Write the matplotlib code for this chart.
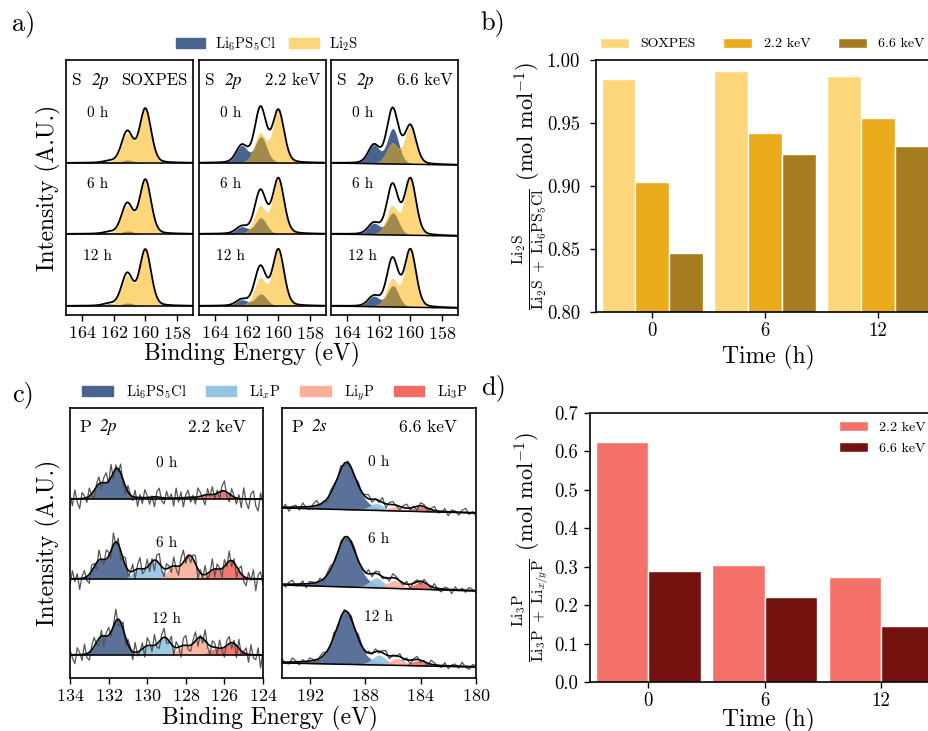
import numpy as np
import matplotlib
matplotlib.use('Agg')
import matplotlib.pyplot as plt
from matplotlib.patches import Patch

plt.rcParams['font.family'] = 'serif'
plt.rcParams['font.serif'] = ['cmr10', 'DejaVu Serif']
plt.rcParams['mathtext.fontset'] = 'cm'
plt.rcParams['axes.unicode_minus'] = False
plt.rcParams['axes.formatter.use_mathtext'] = True

# ---------------- data ----------------
# S 2p fits (peak heights in px above background)
# order of times: 0 h, 6 h, 12 h ; each entry = (2p3/2, 2p1/2)
s_times = ['0 h', '6 h', '12 h']
s_li2s_pos = [160.0, 161.15]
s_lpsc_pos = [161.1, 162.3]
li2s_soxpes = [(54, 28), (54, 27), (56, 29)]
lpsc_soxpes = [(3, 1.5), (3, 1.5), (3, 2)]
li2s_22 = [(52, 29), (55, 27), (56, 27)]
lpsc_22 = [(26, 17), (16, 7), (12, 6)]
li2s_66 = [(38, 20), (56, 28), (57, 27)]
lpsc_66 = [(35, 18), (22, 11), (21, 10)]
s_bg_drop = [0, 0, 2]

# P 2p fits (2.2 keV): 2p3/2 position and height; 2p1/2 = half height at +0.86 eV
p_components = ['Li$_6$PS$_5$Cl', 'Li$_x$P', 'Li$_y$P', 'Li$_3$P']
p2p_pos = [(131.55, 129.6, 127.8, 126.05),
           (131.6, 129.6, 127.8, 125.65),
           (131.5, 129.1, 127.25, 125.6)]
p2p_h = [(30, 2, 1.5, 8),
         (36, 18, 23, 18),
         (35, 17, 17, 12)]
# raw-data residuals (px) around the fit envelope, 134 -> 124 eV
p2p_res_0 = [4, -7, 9, -3, -10, 6, 2, -5, 8, -2, -8, 3, 7, -6, 5, 10, -2, 13, -7, 4,
             -3, 9, -5, -8, 6, 1, -4, 7, -9, 3, -6, 8, 2, -7, 1, -10, 5, 9, -3, -6,
             7, -1, 4, -8, 10, -4, 6, -9, 3, 7, -5, 2, -7, 9, 4, -3, -10, 6, -2, 8,
             -5, 3, -7, 5, 10, -4, -8, 7, 1, -6, 4, -9, 11, -3, -10, 5, 8, -7, -12, 6, -4]
p2p_res_6 = [-6, 8, -3, 5, -11, 2, 7, -4, -9, 6, 3, -7, 10, -2, -5, 9, 4, -8, 12, -3,
             6, -10, 2, 8, -6, -1, 7, -9, 4, 11, -5, -2, 8, -7, 3, -11, 6, 10, -4, -8,
             5, 2, -6, 9, -3, -9, 7, 12, -5, 1, -7, 4, 8, -10, 3, -4, 9, -6, -2, 11,
             -8, 5, 1, -9, 7, -3, 10, -6, 4, -11, 2, 8, -5, -8, 6, -2, 9, -12, 4, 7, -6]
p2p_res_12 = [5, -3, -9, 7, 2, -6, 10, -4, -8, 4, 9, -2, -7, 6, -11, 3, 8, -5, 1, 12,
              -6, -3, 7, -9, 5, 2, -8, 10, -4, -1, 6, -10, 8, 3, -6, 11, -3, -7, 4, 9,
              -5, -2, 8, -9, 6, 1, -11, 7, 10, -4, -6, 3, 9, -8, 2, -5, 11, -3, -9, 6,
              4, -7, 8, -2, -10, 5, 7, -6, 3, -12, 9, -4, 1, 6, -8, 10, -3, -5, 7, -13, 4]

# P 2s fits (6.6 keV)
p2s_pos = [(189.35, 187.2, 185.9, 184.0),
           (189.35, 187.2, 185.9, 184.0),
           (189.4, 187.0, 185.7, 184.2)]
p2s_h = [(47, 7, 4, 5),
         (50, 10, 8, 7),
         (53, 10, 7, 5)]
p2s_bg_drop = [5, 6, 4]
p2s_res_0 = [-2, 3, -4, 1, 2, -3, 4, -1, -3, 2, 5, -2, 1, -4, 3, 2, -1, 4, -3, 2, 1, -2, 3, -1,
             2, 4, -3, 1, -2, 5, -4, 2, 3, -1, -3, 2, 4, -2, 1, -4, 3, 2, -3, 1, 4, -2, -1, 3,
             -4, 2, 1, -3, 2, 4, -2, 1, -3]
p2s_res_6 = [1, -3, 2, 4, -2, -1, 3, -4, 2, 1, -2, 3, -3, 2, 4, -1, -2, 3, 1, -4, 2, 3, -2, 1,
             -1, 4, -3, 2, 3, -2, 1, -3, 4, 2, -1, -2, 3, -4, 1, 2, -3, 3, 1, -2, 4, -1, -3, 2,
             1, -4, 3, -1, 2, -2, 3, 1, -2]
p2s_res_12 = [3, -1, -2, 4, 1, -3, 2, -2, 3, 1, -4, 2, 3, -1, -2, 4, -3, 1, 2, -1, 3, -2, 4, 1,
              -3, 2, -1, 3, -2, 2, 4, -3, 1, -1, 3, -2, 2, -4, 1, 3, -2, 1, -3, 4, 2, -1, -2, 3,
              -3, 1, 2, -2, 4, -1, -3, 2, 1]

# bar charts
times = ['0', '6', '12']
li2s_frac_soxpes = [0.985, 0.9915, 0.987]
li2s_frac_22 = [0.903, 0.942, 0.954]
li2s_frac_66 = [0.847, 0.9255, 0.9315]
li3p_frac_22 = [0.6245, 0.3045, 0.274]
li3p_frac_66 = [0.288, 0.2203, 0.1466]

# ---------------- style ----------------
c_blue = '#48638f'
c_yellow = '#fdd57a'
c_olive = '#a18a4b'
p_colors = ['#48638f', '#93c4e1', '#fcae97', '#f26b61']
b_colors = ['#fdd67a', '#e9aa1c', '#a67c20']
d_colors = ['#f4716a', '#73120e']

W, H = 929, 731
fig = plt.figure(figsize=(W / 100, H / 100), dpi=100)


def add_ax(x0, y0, x1, y1):
    return fig.add_axes([x0 / W, 1 - y1 / H, (x1 - x0) / W, (y1 - y0) / H])


def pv(x, c, h, w, eta):
    d = (x - c) / w
    return h * (eta / (1 + 4 * d ** 2) + (1 - eta) * np.exp(-4 * np.log(2) * d ** 2))


def style_spec(ax):
    ax.set_yticks([])
    ax.tick_params(axis='x', labelsize=13, length=4, width=1, direction='out', pad=3)
    for s in ax.spines.values():
        s.set_linewidth(1.2)


def style_bar(ax, ypad):
    ax.tick_params(labelsize=13.5, length=4.5, width=1)
    ax.tick_params(axis='x', pad=2.5)
    ax.tick_params(axis='y', pad=ypad)
    for s in ax.spines.values():
        s.set_linewidth(1.2)


# ---------------- a) S 2p ----------------
s_cols = [(66, 193, 'SOXPES', li2s_soxpes, lpsc_soxpes),
          (199, 326, '2.2 keV', li2s_22, lpsc_22),
          (331, 458, '6.6 keV', li2s_66, lpsc_66)]
xs = np.linspace(165, 157, 500)
for col, (x0, x1, name, li2s, lpsc) in enumerate(s_cols):
    ax = add_ax(x0, 60, x1, 315)
    for k, off in enumerate([143, 72, 0]):
        base = off - s_bg_drop[col] * (165 - xs) / 8
        yl = sum(pv(xs, c, h, 0.85, 0.2) for c, h in zip(s_li2s_pos, li2s[k]))
        yb = sum(pv(xs, c, h, 0.85, 0.2) for c, h in zip(s_lpsc_pos, lpsc[k]))
        ax.fill_between(xs, base, base + yb, color=c_blue, lw=0)
        ax.fill_between(xs, base, base + yl, color=c_yellow, lw=0)
        ax.fill_between(xs, base, base + np.minimum(yl, yb), color=c_olive, lw=0)
        ax.plot(xs, base, color='k', lw=1.1)
        ax.plot(xs, base + yl + yb, color='k', lw=1.3)
        ax.text(163.0, off + 50, s_times[k], ha='center', va='center', fontsize=11)
    ax.set_xlim(165, 157)
    ax.set_ylim(-9, 246)
    ax.set_xticks([164, 162, 160, 158])
    style_spec(ax)
    ax.text(0.05, 0.92, 'S', transform=ax.transAxes, fontsize=12.5, va='center')
    ax.text(0.2, 0.92, '2p', transform=ax.transAxes, fontsize=12.5, va='center',
            family='STIXGeneral', style='italic')
    ax.text(0.955, 0.92, name, transform=ax.transAxes, fontsize=12, va='center', ha='right')

fig.text(48 / W, 1 - 188 / H, 'Intensity (A.U.)', rotation=90, ha='center', va='center', fontsize=17)
fig.text(252 / W, 1 - 354 / H, 'Binding Energy (eV)', ha='center', va='center', fontsize=17)
fig.legend(handles=[Patch(color=c_blue, label='Li$_6$PS$_5$Cl'), Patch(color=c_yellow, label='Li$_2$S')],
           loc='center left', bbox_to_anchor=(176 / W, 1 - 44 / H), ncol=2, frameon=False,
           fontsize=10.5, handlelength=2.0, handleheight=0.7, handletextpad=0.7,
           columnspacing=0.9, borderpad=0, borderaxespad=0)

# ---------------- c) P 2p / P 2s ----------------
ax = add_ax(70, 408, 263, 678)
xs = np.linspace(134, 124, 500)
p2p_res = [p2p_res_0, p2p_res_6, p2p_res_12]
for k, off in enumerate([156, 76, 0]):
    comps = [pv(xs, c, h, 0.75, 0.1) + pv(xs, c + 0.86, h / 2, 0.75, 0.1)
             for c, h in zip(p2p_pos[k], p2p_h[k])]
    xr = np.linspace(134, 124, len(p2p_res[k]))
    env_r = sum(pv(xr, c, h, 0.75, 0.1) + pv(xr, c + 0.86, h / 2, 0.75, 0.1)
                for c, h in zip(p2p_pos[k], p2p_h[k]))
    ax.plot(xr, off + env_r + np.array(p2p_res[k]), color='#555555', lw=0.9)
    for comp, colr in zip(comps, p_colors):
        ax.fill_between(xs, off, off + comp, color=colr, lw=0, alpha=0.9)
    ax.plot(xs, np.full_like(xs, off), color='k', lw=1.1)
    ax.plot(xs, off + sum(comps), color='k', lw=1.2)
    ax.text(129.0, off + 36, s_times[k], ha='center', va='center', fontsize=11)
ax.set_xlim(134, 124)
ax.set_ylim(-23, 247)
ax.set_xticks([134, 132, 130, 128, 126, 124])
style_spec(ax)
ax.text(0.05, 0.93, 'P', transform=ax.transAxes, fontsize=12.5, va='center')
ax.text(0.155, 0.93, '2p', transform=ax.transAxes, fontsize=12.5, va='center',
        family='STIXGeneral', style='italic')
ax.text(0.91, 0.93, '2.2 keV', transform=ax.transAxes, fontsize=12.5, va='center', ha='right')

ax = add_ax(282, 408, 476, 678)
xs = np.linspace(194, 180, 500)
p2s_res = [p2s_res_0, p2s_res_6, p2s_res_12]
widths = [1.75, 1.2, 1.2, 1.2]
for k, off in enumerate([155, 78, 0]):
    base = off - p2s_bg_drop[k] * (194 - xs) / 14
    comps = [pv(xs, c, h, w, 0.45) for c, h, w in zip(p2s_pos[k], p2s_h[k], widths)]
    xr = np.linspace(194, 180, len(p2s_res[k]))
    base_r = off - p2s_bg_drop[k] * (194 - xr) / 14
    env_r = sum(pv(xr, c, h, w, 0.45) for c, h, w in zip(p2s_pos[k], p2s_h[k], widths))
    ax.plot(xr, base_r + env_r + np.array(p2s_res[k]), color='#555555', lw=0.9)
    for comp, colr in zip(comps, p_colors):
        ax.fill_between(xs, base, base + comp, color=colr, lw=0, alpha=0.9)
    ax.plot(xs, base, color='k', lw=1.1)
    ax.plot(xs, base + sum(comps), color='k', lw=1.2)
    ax.text(187.0, off + 46, s_times[k], ha='center', va='center', fontsize=11)
ax.set_xlim(194, 180)
ax.set_ylim(-15, 255)
ax.set_xticks([192, 188, 184, 180])
style_spec(ax)
ax.text(0.05, 0.93, 'P', transform=ax.transAxes, fontsize=12.5, va='center')
ax.text(0.155, 0.93, '2s', transform=ax.transAxes, fontsize=12.5, va='center',
        family='STIXGeneral', style='italic')
ax.text(0.90, 0.93, '6.6 keV', transform=ax.transAxes, fontsize=12.5, va='center', ha='right')

fig.text(48 / W, 1 - 543 / H, 'Intensity (A.U.)', rotation=90, ha='center', va='center', fontsize=17)
fig.text(270 / W, 1 - 718 / H, 'Binding Energy (eV)', ha='center', va='center', fontsize=17)
fig.legend(handles=[Patch(color=c, label=l) for c, l in zip(p_colors, p_components)],
           loc='center left', bbox_to_anchor=(82 / W, 1 - 393 / H), ncol=4, frameon=False,
           fontsize=10.5, handlelength=2.1, handleheight=0.7, handletextpad=0.9,
           columnspacing=1.3, borderpad=0, borderaxespad=0)

# ---------------- b) Li2S fraction ----------------
idx = np.arange(len(times))
ax = add_ax(596, 60, 934.5, 312)
for off, vals, colr, lab in zip([-0.3, 0, 0.3], [li2s_frac_soxpes, li2s_frac_22, li2s_frac_66],
                                b_colors, ['SOXPES', '2.2 keV', '6.6 keV']):
    ax.bar(idx + off, vals, width=0.3, color=colr, edgecolor='white', linewidth=1, label=lab)
ax.set_xlim(-0.5, 2.5)
ax.set_ylim(0.80, 1.00)
ax.set_yticks([0.80, 0.85, 0.90, 0.95, 1.00])
ax.set_yticklabels(['0.80', '0.85', '0.90', '0.95', '1.00'])
ax.set_xticks(idx)
ax.set_xticklabels(times)
style_bar(ax, 7)
fig.text(768 / W, 1 - 357 / H, 'Time (h)', ha='center', va='center', fontsize=17)
fig.text(530 / W, 1 - 186 / H,
         r'$\frac{\mathrm{Li_2S}}{\mathrm{Li_2S\ +\ Li_6PS_5Cl}}$ (mol mol$^{-1}$)',
         rotation=90, ha='center', va='center', fontsize=16)
ax.legend(loc='center left', bbox_to_anchor=(600 / W, 1 - 44 / H), bbox_transform=fig.transFigure,
          ncol=3, frameon=False, fontsize=10, handlelength=2.1, handleheight=0.75,
          handletextpad=0.8, columnspacing=2.0, borderpad=0, borderaxespad=0)

# ---------------- d) Li3P fraction ----------------
ax = add_ax(590, 413, 939.5, 682)
for off, vals, colr, lab in zip([-0.225, 0.225], [li3p_frac_22, li3p_frac_66],
                                d_colors, ['2.2 keV', '6.6 keV']):
    ax.bar(idx + off, vals, width=0.45, color=colr, edgecolor='white', linewidth=1, label=lab)
ax.set_xlim(-0.5, 2.5)
ax.set_ylim(0, 0.7)
ax.set_yticks(np.arange(0, 0.71, 0.1))
ax.set_yticklabels(['%.1f' % v for v in np.arange(0, 0.71, 0.1)])
ax.set_xticks(idx)
ax.set_xticklabels(times)
style_bar(ax, 4)
fig.text(768 / W, 1 - 720 / H, 'Time (h)', ha='center', va='center', fontsize=17)
fig.text(531 / W, 1 - 547 / H,
         r'$\frac{\mathrm{Li_3P}}{\mathrm{Li_3P\ +\ Li_{\mathit{x/y}}P}}$ (mol mol$^{-1}$)',
         rotation=90, ha='center', va='center', fontsize=16)
ax.legend(loc='upper left', bbox_to_anchor=(839 / W, 1 - 421 / H), bbox_transform=fig.transFigure,
          frameon=False, fontsize=10, handlelength=2.1, handleheight=0.75,
          handletextpad=0.8, labelspacing=0.6, borderpad=0, borderaxespad=0)

# panel letters
for lab, x, y in [('a)', 12, 24), ('b)', 480, 23), ('c)', 12, 395), ('d)', 481, 388)]:
    fig.text(x / W, 1 - y / H, lab, fontsize=19, ha='left', va='center')

fig.savefig('out.png', dpi=100)
